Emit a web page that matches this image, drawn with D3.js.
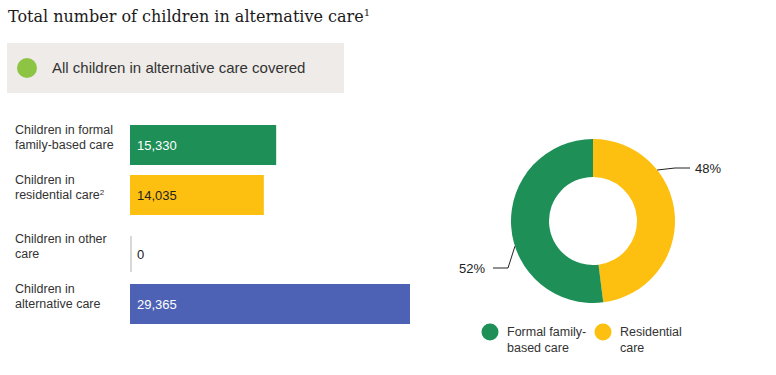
<!DOCTYPE html>
<html>
<head>
<meta charset="utf-8">
<script src="https://cdn.jsdelivr.net/npm/d3@7"></script>
<style>
  body { margin: 0; background: #fff; }
  text { font-family: "Liberation Sans", Arial, sans-serif; }
</style>
</head>
<body>
<script>
// bar data
var categories = [
  ["Children in formal", "family-based care"],
  ["Children in", "residential care"],
  ["Children in other", "care"],
  ["Children in", "alternative care"]
];
var values = [15330, 14035, 0, 29365];
var barColors = ["#1d8f57", "#fdc010", "#d8d8d8", "#4e62b5"];
var labelColors = ["#fff", "#222", "#222", "#fff"];

// donut data
var pieNames = ["Residential care", "Formal family-based care"];
var pieValues = [48, 52];
var pieColors = ["#fdc010", "#1d8f57"];
var legendLines = [["Formal family-", "based care"], ["Residential", "care"]];
var legendColors = ["#1d8f57", "#fdc010"];

var width = 776, height = 375;

var svg = d3.select("body").append("svg")
  .attr("width", width)
  .attr("height", height);

// title
var title = svg.append("text")
  .attr("x", 8)
  .attr("y", 22)
  .style("font-family", "'DejaVu Serif', serif")
  .style("font-size", "16px")
  .attr("fill", "#1a1a1a")
  .text("Total number of children in alternative care");
title.append("tspan")
  .attr("dy", -6)
  .style("font-size", "10px")
  .text("1");

// coverage box
svg.append("rect")
  .attr("x", 7).attr("y", 43)
  .attr("width", 337).attr("height", 50)
  .attr("fill", "#eeebe8");
svg.append("circle")
  .attr("cx", 27).attr("cy", 68).attr("r", 10)
  .attr("fill", "#8dc444");
svg.append("text")
  .attr("x", 52).attr("y", 73)
  .style("font-size", "15px")
  .attr("fill", "#333")
  .text("All children in alternative care covered");

// bars
var x = d3.scaleLinear()
  .domain([0, d3.max(values)])
  .range([0, 280]);

var barTops = [125, 175, 236, 284];
var barHeights = [40, 40, 36, 40];
var x0 = 130;

var rows = svg.append("g").selectAll("g")
  .data(values)
  .enter().append("g");

rows.append("rect")
  .attr("x", x0)
  .attr("y", (d, i) => barTops[i])
  .attr("width", d => Math.max(x(d), 2))
  .attr("height", (d, i) => barHeights[i])
  .attr("fill", (d, i) => barColors[i]);

rows.append("text")
  .attr("x", x0 + 7)
  .attr("y", (d, i) => barTops[i] + barHeights[i] / 2 + 5)
  .style("font-size", "13px")
  .attr("fill", (d, i) => labelColors[i])
  .text(d => d3.format(",")(d));

rows.each(function(d, i) {
  var t = d3.select(this).append("text")
    .attr("x", 15)
    .attr("y", barTops[i] + barHeights[i] / 2 - 11)
    .style("font-size", "12.5px")
    .attr("fill", "#333");
  categories[i].forEach(function(line, j) {
    t.append("tspan")
      .attr("x", 15)
      .attr("dy", j === 0 ? 0 : 15)
      .text(line);
  });
  if (i === 1) {
    t.append("tspan").attr("dy", -4).style("font-size", "8px").text("2");
  }
});

// donut
var cx = 593, cy = 221, outerR = 82, innerR = 44;
var pie = d3.pie().sort(null).value(d => d);
var arcs = pie(pieValues);
var arc = d3.arc().innerRadius(innerR).outerRadius(outerR);

var donut = svg.append("g")
  .attr("transform", "translate(" + cx + "," + cy + ")");

donut.selectAll("path")
  .data(arcs)
  .enter().append("path")
  .attr("d", arc)
  .attr("fill", (d, i) => pieColors[i]);

// leader lines, from a point on the outer edge to an elbow, then flat
var leaders = [
  { mid: 0.90, elbow: [82, -53], end: [97, -53], anchor: "start" },
  { mid: 4.4, elbow: [-85, 47], end: [-100, 47], anchor: "end" }
];
arcs.forEach(function(a, i) {
  var L = leaders[i];
  var p = [Math.sin(L.mid) * outerR, -Math.cos(L.mid) * outerR];
  donut.append("polyline")
    .attr("points", [p, L.elbow, L.end].map(q => q.join(",")).join(" "))
    .attr("fill", "none")
    .attr("stroke", "#222")
    .attr("stroke-width", 1);
  donut.append("text")
    .attr("x", L.end[0] + (L.anchor === "start" ? 5 : -8))
    .attr("y", L.end[1] + 5)
    .attr("text-anchor", L.anchor)
    .style("font-size", "13px")
    .attr("fill", "#222")
    .text(pieValues[i] + "%");
});

// legend
var legendX = [490, 603];
legendLines.forEach(function(lines, i) {
  svg.append("circle")
    .attr("cx", legendX[i]).attr("cy", 332).attr("r", 8.5)
    .attr("fill", legendColors[i]);
  var t = svg.append("text")
    .attr("y", 336)
    .style("font-size", "12.5px")
    .attr("fill", "#333");
  lines.forEach(function(line, j) {
    t.append("tspan")
      .attr("x", legendX[i] + 17)
      .attr("dy", j === 0 ? 0 : 16)
      .text(line);
  });
});
</script>
</body>
</html>
